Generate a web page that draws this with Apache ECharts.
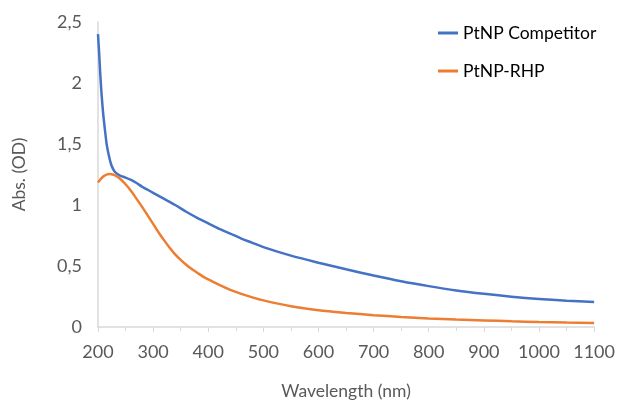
<!DOCTYPE html>
<html><head><meta charset="utf-8">
<script src="https://cdn.jsdelivr.net/npm/echarts@6/dist/echarts.min.js"></script>
<style>html,body{margin:0;padding:0;background:#fff}#c{width:618px;height:405px}</style>
</head><body><div id="c"></div>
<script>
var seriesNames = ['PtNP Competitor', 'PtNP-RHP'];
var compWavelength = [200,202,204,206,208,210,213,216,220,224,228,232,240,250,260,270,280,290,300,320,340,360,380,400,420,440,460,480,500,550,600,650,700,750,800,850,900,950,1000,1050,1100];
var compAbs = [2.40,2.25,2.08,1.94,1.82,1.72,1.60,1.49,1.40,1.33,1.29,1.265,1.24,1.225,1.205,1.18,1.15,1.125,1.10,1.05,1.00,0.945,0.895,0.85,0.805,0.765,0.725,0.69,0.655,0.585,0.527,0.473,0.422,0.375,0.335,0.30,0.272,0.248,0.229,0.215,0.205];
var rhpWavelength = [200,210,220,230,240,250,260,270,280,290,300,310,320,330,340,350,360,370,380,390,400,420,440,460,480,500,550,600,650,700,750,800,850,900,950,1000,1050,1100];
var rhpAbs = [1.185,1.235,1.255,1.245,1.215,1.17,1.115,1.05,0.985,0.915,0.845,0.775,0.71,0.65,0.595,0.55,0.51,0.475,0.445,0.415,0.39,0.345,0.305,0.272,0.243,0.218,0.17,0.137,0.115,0.097,0.082,0.07,0.061,0.054,0.047,0.041,0.036,0.032];
var xTicks = {min:200, max:1100, interval:100};
var yTicks = {min:0, max:2.5, interval:0.5};

function zip(a,b){return a.map(function(v,i){return [v,b[i]];});}
var font = 'Lato, "Open Sans", sans-serif';
var chart = echarts.init(document.getElementById('c'));
chart.setOption({
  animation:false,
  textStyle:{fontFamily:font},
  grid:{left:98,right:22,top:22,bottom:72,containLabel:false},
  legend:{
    orient:'vertical', left:433, top:19, itemGap:20,
    icon:'rect', itemWidth:20, itemHeight:3, textGap:4,
    textStyle:{fontFamily:font,fontSize:17.5,color:'#000'},
    data:seriesNames
  },
  xAxis:{
    type:'value', min:xTicks.min, max:xTicks.max, interval:xTicks.interval,
    name:'Wavelength (nm)', nameLocation:'middle', nameGap:55,
    nameTextStyle:{fontFamily:font,fontSize:17.5,color:'#595959'},
    axisLine:{lineStyle:{color:'#d9d9d9',width:1.5}},
    axisTick:{show:true,length:5,lineStyle:{color:'#d9d9d9'}},
    minorTick:{show:true,splitNumber:2,length:4,lineStyle:{color:'#d9d9d9'}},
    splitLine:{show:false},
    axisLabel:{fontFamily:font,fontSize:18,color:'#595959',margin:16,
      formatter:function(v){return String(v);}}
  },
  yAxis:{
    type:'value', min:yTicks.min, max:yTicks.max, interval:yTicks.interval,
    name:'Abs. (OD)', nameLocation:'middle', nameGap:70, nameRotate:90,
    nameTextStyle:{fontFamily:font,fontSize:17.5,color:'#595959'},
    axisLine:{show:true,lineStyle:{color:'#d9d9d9',width:1.5}},
    axisTick:{show:false},
    splitLine:{show:false},
    axisLabel:{fontFamily:font,fontSize:18,color:'#595959',margin:16,
      formatter:function(v){return String(v).replace('.',',');}}
  },
  series:[
    {name:seriesNames[0],type:'line',data:zip(compWavelength,compAbs),smooth:0.3,showSymbol:false,
     lineStyle:{color:'#4472C4',width:2.5},itemStyle:{color:'#4472C4'}},
    {name:seriesNames[1],type:'line',data:zip(rhpWavelength,rhpAbs),smooth:0.3,showSymbol:false,
     lineStyle:{color:'#ED7D31',width:2.5},itemStyle:{color:'#ED7D31'}}
  ]
});
</script></body></html>
